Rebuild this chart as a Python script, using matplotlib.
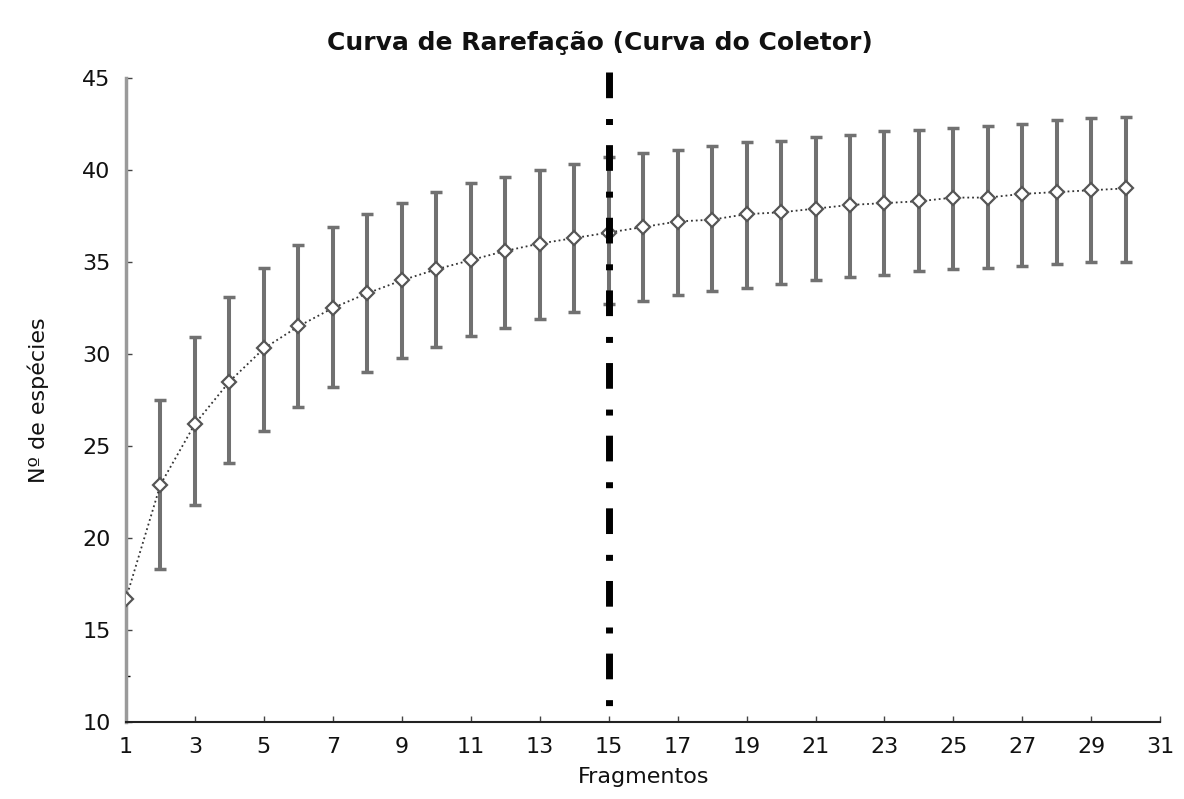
import numpy as np
import matplotlib
matplotlib.use('Agg')
import matplotlib.pyplot as plt
from matplotlib.ticker import FixedLocator

plt.rcParams['font.family'] = ['DejaVu Sans']

# number of fragments
fragmentos = np.arange(1, 31)
# mean number of species (collector curve)
media = [16.7, 22.9, 26.2, 28.5, 30.3, 31.5, 32.5, 33.3, 34.0, 34.6,
         35.1, 35.6, 36.0, 36.3, 36.6, 36.9, 37.2, 37.3, 37.6, 37.7,
         37.9, 38.1, 38.2, 38.3, 38.5, 38.5, 38.7, 38.8, 38.9, 39.0]
# upper / lower limits of the error bars (none for the first point)
sup = [np.nan, 27.5, 30.9, 33.1, 34.7, 35.9, 36.9, 37.6, 38.2, 38.8,
       39.3, 39.6, 40.0, 40.3, 40.7, 40.9, 41.1, 41.3, 41.5, 41.6,
       41.8, 41.9, 42.1, 42.2, 42.3, 42.4, 42.5, 42.7, 42.8, 42.9]
inf = [np.nan, 18.3, 21.8, 24.1, 25.8, 27.1, 28.2, 29.0, 29.8, 30.4,
       31.0, 31.4, 31.9, 32.3, 32.7, 32.9, 33.2, 33.4, 33.6, 33.8,
       34.0, 34.2, 34.3, 34.5, 34.6, 34.7, 34.8, 34.9, 35.0, 35.0]
corte = 15          # vertical dash-dot reference line
corte_y = [45.3, 10.4]

media = np.array(media)
sup = np.array(sup)
inf = np.array(inf)

fig = plt.figure(figsize=(11.84, 7.99), dpi=100)
ax = fig.add_axes([0.1064, 0.0964, 0.98 - 0.1064, 0.9024 - 0.0964])

m = ~np.isnan(sup)
ax.errorbar(fragmentos[m], media[m], yerr=[media[m] - inf[m], sup[m] - media[m]],
            fmt='none', ecolor='#717171', elinewidth=2.9, capsize=4.5, capthick=2.5, zorder=2)
ax.plot(fragmentos, media, ':', color='#333333', lw=1.3, zorder=3)
ax.plot(fragmentos, media, 'D', ms=7.5, mfc='white', mec='#555555', mew=1.6, zorder=4)

ln, = ax.plot([corte, corte], corte_y, '-', color='black', lw=5.0, clip_on=False,
              solid_capstyle='butt', dash_capstyle='butt', zorder=5)
ln.set_dashes((3.7, 3.0, 0.86, 2.9))

ax.set_xlim(1, 31)
ax.set_ylim(10, 45)
ax.set_xticks(np.arange(1, 32, 2))
ax.set_yticks(np.arange(10, 46, 5))
ax.yaxis.set_minor_locator(FixedLocator([12.5]))
ax.tick_params(direction='in', length=4, width=1, labelsize=16, colors='#444444', labelcolor='#111111')
ax.tick_params(axis='x', pad=11)
ax.tick_params(axis='y', pad=11)
ax.tick_params(which='minor', direction='in', length=3, width=1)

for s in ['top', 'right']:
    ax.spines[s].set_visible(False)
ax.spines['left'].set_color('#9a9a9a')
ax.spines['left'].set_linewidth(2.5)
ax.spines['bottom'].set_color('#222222')
ax.spines['bottom'].set_linewidth(1.5)

ax.set_title('Curva de Rarefação (Curva do Coletor)', fontsize=18, fontweight='bold',
             pad=20, x=(600 - 126) / 1034, color='#111111')
ax.set_xlabel('Fragmentos', fontsize=16, labelpad=7, color='#111111')
ax.set_ylabel('Nº de espécies', fontsize=16, labelpad=24, color='#111111')

fig.savefig('out.png', dpi=100)
